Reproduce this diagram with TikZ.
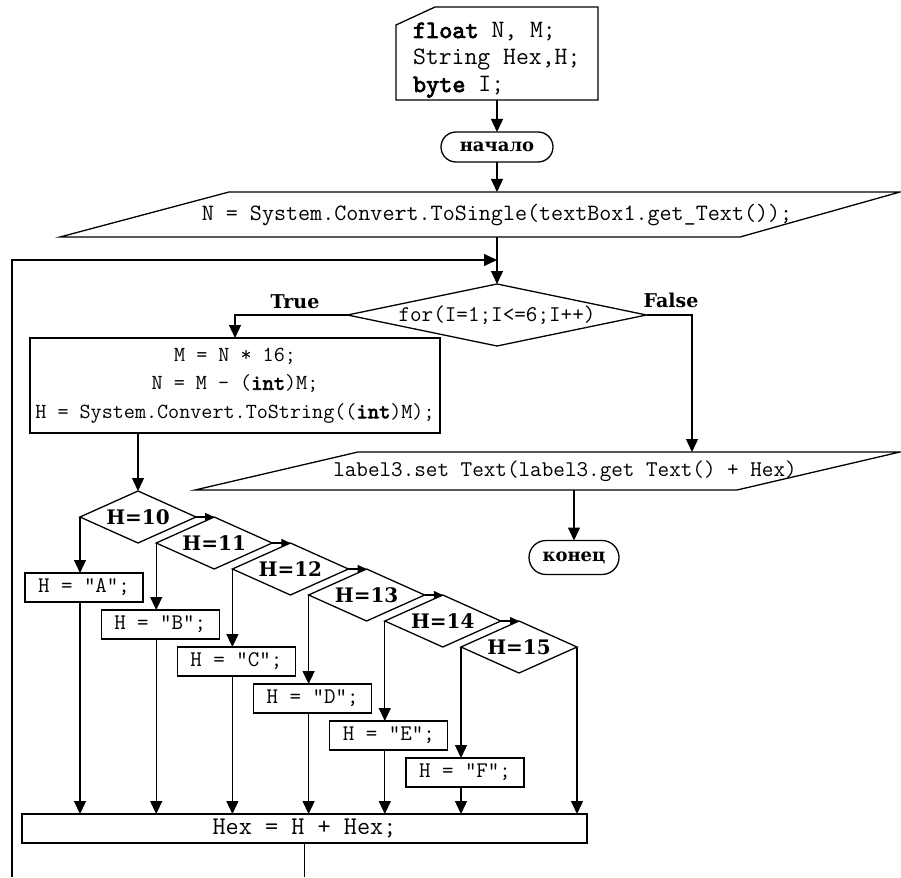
\documentclass[tikz,border=0pt]{standalone}
\usepackage{fontspec}
\setmainfont{DejaVu Serif}
\newfontfamily\kwfont{lmmono10-regular.otf}[FakeBold=3]
\newcommand{\kw}[1]{{\kwfont #1}}
\usetikzlibrary{shapes.geometric,arrows.meta}
\tikzset{
  every node/.style={inner sep=0pt, outer sep=0pt},
  lbl/.style={font=\bfseries\fontsize{19}{22}\selectfont},
  term/.style={draw, rounded corners=15pt, font=\bfseries\fontsize{18}{22}\selectfont},
  dtext/.style={font=\ttfamily\fontsize{25}{27}\selectfont},
  itext/.style={font=\ttfamily\fontsize{23.4}{26}\selectfont},
  ftext/.style={font=\ttfamily\fontsize{22.5}{26}\selectfont},
  ptext/.style={font=\ttfamily\fontsize{21.5}{28.5}\selectfont},
  hd/.style={diamond, draw, aspect=2.3, minimum width=116pt, minimum height=52pt, font=\bfseries\fontsize{20}{24}\selectfont},
  hbox/.style={draw, minimum width=118pt, minimum height=29pt, font=\ttfamily\fontsize{22.3}{24}\selectfont},
  small/.style={-{Triangle[length=9pt,width=8pt]}}
}
\begin{document}
\begin{tikzpicture}[x=1pt,y=-1pt,line width=1.3pt,>={Triangle[length=13pt,width=12pt]}]
\useasboundingbox (0,0) rectangle (901,877);

% declarations
\node[minimum width=202pt, minimum height=93pt, anchor=north west] (decl) at (396,7) {};
\draw ([yshift=-18pt]decl.north west) -- ([xshift=39pt]decl.north west) -- (decl.north east) -- (decl.south east) -- (decl.south west) -- cycle;
\node[dtext, anchor=base west] (dl1) at (413,38) {\kw{float} N, M;};
\node[dtext, anchor=base west] (dl2) at (413,65) {String Hex,H;};
\node[dtext, anchor=base west] (dl3) at (413,92) {\kw{byte} I;};

% start
\node[term, minimum width=112pt, minimum height=30pt] (start) at (497,147) {начало};

% input parallelogram
\draw (229,192) -- (900,192) -- (740,237) -- (60,237) -- cycle;
\node[itext] (inText) at (497,215) {N = System.Convert.ToSingle(textBox1.get\_Text());};
\coordinate (inTop) at (497,192);
\coordinate (inBot) at (497,237);

% for diamond
\node[diamond, draw, aspect=4.8, minimum width=299pt, minimum height=62pt, ftext] (forD) at (497,315) {for(I=1;I<=6;I++)};
\node[lbl, anchor=base] (tTrue) at (295,308) {True};
\node[lbl, anchor=base] (tFalse) at (671,307) {False};

% process box
\node[draw, minimum width=410pt, minimum height=95pt, align=center, ptext] (proc) at (235,385.5)
  {M = N * 16;\\ N = M - (\kw{int})M;\\ H = System.Convert.ToString((\kw{int})M);};

% output parallelogram
\draw (358,452) -- (900,452) -- (737,490) -- (195,490) -- cycle;
\node[ftext] (outText) at (565,471) {label3.set Text(label3.get Text() + Hex)};
\coordinate (outF) at (692,452);
\coordinate (outBot) at (574,490);

% end
\node[term, minimum width=90pt, minimum height=34pt, rounded corners=17pt] (end) at (574,557.5) {конец};

% cascade diamonds and boxes
\foreach \i/\t in {0/10,1/11,2/12,3/13,4/14,5/15}
  \node[hd] (d\i) at ({138+76.2*\i},{517+26*\i}) {H=\t};
\foreach \i/\c in {0/A,1/B,2/C,3/D,4/E,5/F}
  \node[hbox] (b\i) at ({84+76.2*\i},{587.5+37*\i}) {H = "\c";};

% hex box
\node[draw, minimum width=565pt, minimum height=29pt, font=\ttfamily\fontsize{25.5}{27}\selectfont] (hex) at (304.5,828.5) {Hex = H + Hex;};
\coordinate (hexEnd) at (304.5,877);
\coordinate (loopL) at (12,877);
\coordinate (loopJ) at (497,260);

% connectors
\draw[->] (decl.south) -- (start.north);
\draw[->] (start.south) -- (inTop);
\draw[->] (inBot) -- (forD.north);
\draw[->] (loopL) |- (loopJ);
\draw[->] (forD.west) -| (proc.north);
\draw[->] (forD.east) -| (outF);
\draw[->] (outBot) -- (end.north);
\draw[->] (d0.north |- proc.south) -- (d0.north);
\foreach \i/\j in {0/1,1/2,2/3,3/4,4/5}
  \draw[small] (d\i.east) -- (d\j.north);
\foreach \i in {0,...,5} {
  \draw[->] (d\i.west) -- (d\i.west |- b\i.north);
  \draw[->] (d\i.west |- b\i.south) -- (d\i.west |- hex.north);
}
\draw[->] (d5.east) -- (d5.east |- hex.north);
\draw (hex.south) -- (hexEnd);
\end{tikzpicture}
\end{document}
